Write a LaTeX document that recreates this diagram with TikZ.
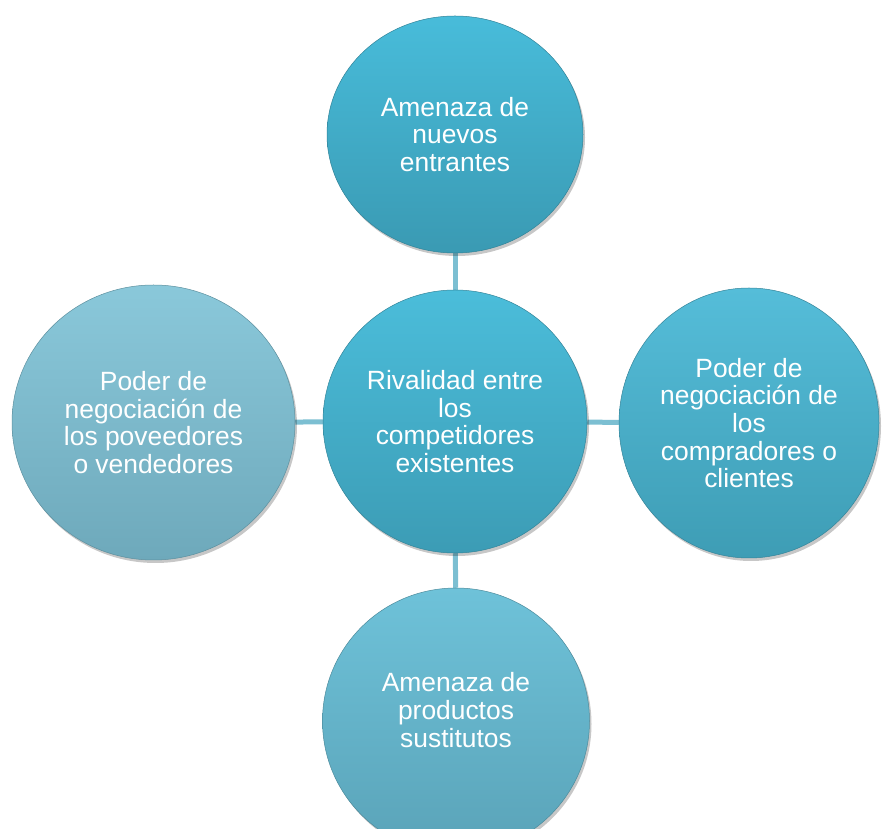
\documentclass[tikz,border=0pt]{standalone}
\usepackage{fontspec}
\setmainfont{Liberation Sans}
\usetikzlibrary{shapes.geometric,shadows,backgrounds}
\definecolor{linkc}{HTML}{7CBFD2}
\definecolor{topA}{HTML}{48BCDA}\definecolor{topB}{HTML}{3A9AB3}
\definecolor{cenA}{HTML}{4BBDDA}\definecolor{cenB}{HTML}{3C9CB5}
\definecolor{lefA}{HTML}{8AC8DA}\definecolor{lefB}{HTML}{6EA9BB}
\definecolor{rigA}{HTML}{55BDD9}\definecolor{rigB}{HTML}{3E9DB5}
\definecolor{botA}{HTML}{6EC2D9}\definecolor{botB}{HTML}{5AA3B8}
\tikzset{
  force/.style={ellipse, inner sep=0pt, align=center, text=white,
    font=\fontsize{26.4}{27.6}\selectfont, draw=#1B!85!black, line width=0.5pt,
    top color=#1A, bottom color=#1B,
    drop shadow={shadow xshift=2pt, shadow yshift=-3pt, opacity=0.22, fill=black}},
  link/.style={draw=linkc, line width=5pt}
}
\begin{document}
\begin{tikzpicture}[x=1pt,y=1pt]
\useasboundingbox (0,0) rectangle (884,828);
\clip (0,0) rectangle (884,828);
\node[force=cen, minimum width=264pt, minimum height=263pt] (c) at (455,406.5)
  {Rivalidad entre\\los\\competidores\\existentes};
\node[force=top, minimum width=256pt, minimum height=237pt] (t) at (455,693.5)
  {Amenaza de\\nuevos\\entrantes};
\node[force=lef, minimum width=283pt, minimum height=275pt] (l) at (153.5,405.5)
  {Poder de\\negociación de\\los poveedores\\o vendedores};
\node[force=rig, minimum width=260pt, minimum height=270pt] (r) at (749,405)
  {Poder de\\negociación de\\los\\compradores o\\clientes};
\node[force=bot, minimum width=267pt, minimum height=266pt] (b) at (456,107) {};
\node[align=center, text=white, font=\fontsize{26.4}{27.6}\selectfont] (bt) at (456,118)
  {Amenaza de\\productos\\sustitutos};
\begin{pgfonlayer}{background}
  \fill[white] (0,0) rectangle (884,828);
  \draw[link] (c) -- (t);
  \draw[link] (c) -- (b);
  \draw[link] (c) -- (l);
  \draw[link] (c) -- (r);
\end{pgfonlayer}
\end{tikzpicture}
\end{document}
